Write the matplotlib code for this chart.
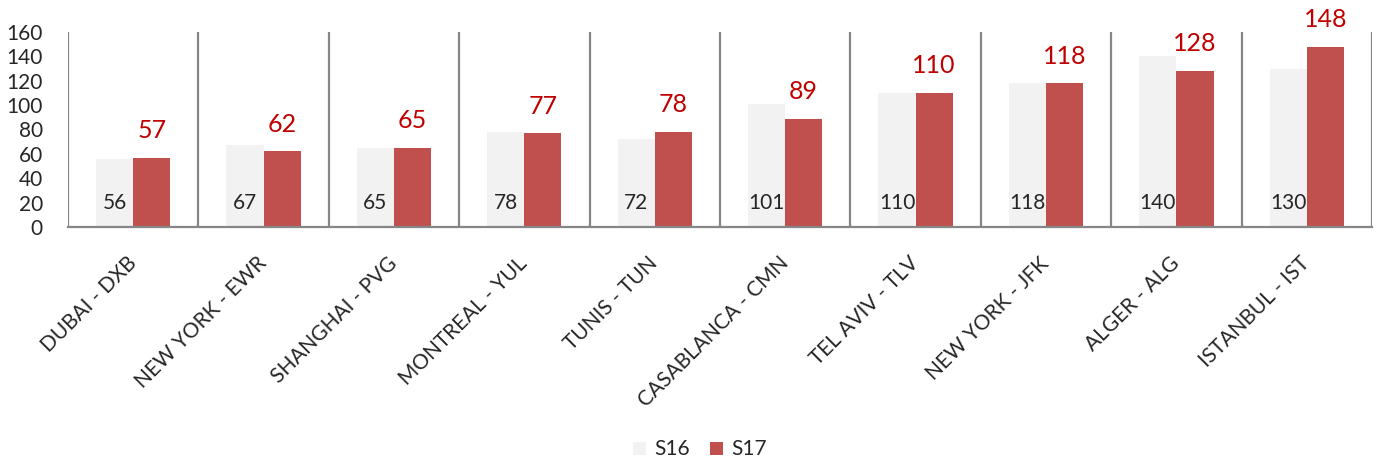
import numpy as np
import matplotlib
matplotlib.use('Agg')
from matplotlib import pyplot as plt

plt.rcParams['font.family'] = ['Lato', 'DejaVu Sans']

# data
routes = ['DUBAI - DXB', 'NEW YORK - EWR', 'SHANGHAI - PVG', 'MONTREAL - YUL', 'TUNIS - TUN',
          'CASABLANCA - CMN', 'TEL AVIV - TLV', 'NEW YORK - JFK', 'ALGER - ALG', 'ISTANBUL - IST']
s16 = [56, 67, 65, 78, 72, 101, 110, 118, 140, 130]
s17 = [57, 62, 65, 77, 78, 89, 110, 118, 128, 148]
yticks = [0, 20, 40, 60, 80, 100, 120, 140, 160]

c16 = '#F2F2F2'
c17 = '#C0504D'
grey = '#868686'

fig = plt.figure(figsize=(13.78, 4.61), dpi=100)
ax = fig.add_axes([0.0493, 0.5076, 0.9463, 0.4230])

x = np.arange(len(routes))
w = 0.285
b16 = ax.bar(x - w/2, s16, w, color=c16, label='S16', zorder=2)
b17 = ax.bar(x + w/2, s17, w, color=c17, label='S17', zorder=2)

# value labels: S16 near the base, S17 above the bar in red
for i in range(len(routes)):
    ax.text(x[i] - w/2, 20, str(s16[i]), ha='center', va='center', fontsize=15, color='#262626', zorder=3)
    ax.annotate(str(s17[i]), (x[i] + w/2, s17[i]), xytext=(0, 19.5), textcoords='offset points',
                ha='center', va='center', fontsize=18, color='#C00000', annotation_clip=False)

# category separators
ax.vlines(np.arange(len(routes) + 1) - 0.5, 0, 160, color=grey, lw=1.6, zorder=1)

ax.set_xlim(-0.5, len(routes) - 0.5)
ax.set_ylim(0, 160)
ax.set_yticks(yticks)
ax.set_yticklabels([str(t) for t in yticks], fontsize=15, color='#262626')
ax.tick_params(axis='y', length=0, pad=18)
ax.set_xticks(x)
ax.set_xticklabels(routes, rotation=45, ha='right', va='center', rotation_mode='anchor',
                   fontsize=15, color='#262626')
ax.tick_params(axis='x', length=0, pad=24)
for s in ['top', 'right', 'left']:
    ax.spines[s].set_visible(False)
ax.spines['bottom'].set_color(grey)
ax.spines['bottom'].set_linewidth(1.6)

fig.legend(handles=[b16, b17], loc='center', bbox_to_anchor=(0.508, 0.025), ncol=2, frameon=False,
           fontsize=15, handlelength=0.6, handleheight=0.6, handletextpad=0.4, columnspacing=1.0,
           labelcolor='#262626')

fig.savefig('out.png', dpi=100)
